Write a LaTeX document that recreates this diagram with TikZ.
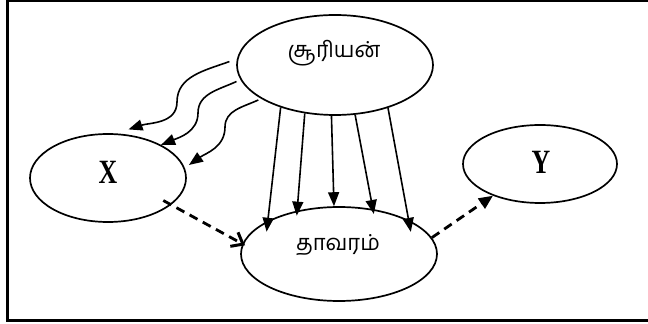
\documentclass[tikz,border=0pt]{standalone}
\usepackage{fontspec}
\usetikzlibrary{shapes.geometric,arrows.meta}
\setmainfont{Liberation Serif}
\newfontfamily\tamilfont[Script=Tamil]{Hind Madurai}

\begin{document}
\begin{tikzpicture}[x=1pt,y=1pt,
  oval/.style={ellipse, draw, line width=1.7pt, inner sep=0pt},
  tamil/.style={font=\tamilfont\fontsize{22}{22}\selectfont, inner sep=0pt},
  letter/.style={font=\bfseries\fontsize{34}{34}\selectfont, inner sep=0pt},
  ray/.style={line width=1.6pt, -{Triangle[length=14pt,width=11pt]}},
  flow/.style={line width=2.8pt, dash pattern=on 9pt off 6pt}
]
\useasboundingbox (0,0) rectangle (648,324);
\clip (0,0) rectangle (648,324);

% outer frame
\draw[line width=3pt] (660,323) -- (7,323) -- (7,3) -- (660,3);

% ovals and their labels
\node[oval, minimum width=196pt, minimum height=100pt] (sun) at (335,259) {};
\node[tamil] (suntext) at (334,271) {சூரியன்};
\node[oval, minimum width=156pt, minimum height=88pt] (x) at (108,146) {};
\node[letter] (xtext) at (108,152) {\scalebox{0.76}[1]{X}};
\node[oval, minimum width=196pt, minimum height=94pt] (plant) at (339,70) {};
\node[tamil] (planttext) at (338,79) {தாவரம்};
\node[oval, minimum width=154pt, minimum height=78pt] (y) at (540,160) {};
\node[letter] (ytext) at (541,162) {\scalebox{0.76}[1]{Y}};

% straight rays from the sun to the plant
\draw[ray, shorten >=-11pt] (sun.218) -- (plant.155);
\draw[ray, shorten >=-5pt] (sun.238) -- (plant.134);
\draw[ray] (sun.266) -- (plant.96);
\draw[ray, shorten >=-5pt] (sun.292) -- (plant.53);
\draw[ray, shorten >=-12pt] (sun.321) -- (plant.26);

% wavy rays from the sun to X
\draw[ray] ([xshift=-7pt]sun.178) to[out=200,in=90] (177,222)
  to[out=-90,in=18] ([shift={(2pt,5pt)}]x.67);
\draw[ray] ([xshift=-5pt]sun.190) to[out=205,in=90] (198,211)
  to[out=-90,in=22] (x.32);
\draw[ray] ([xshift=-5pt]sun.206) to[out=205,in=90] (225,197)
  to[out=-90,in=35] ([shift={(5pt,1pt)}]x.9);

% dashed flows
\draw[flow, -{Straight Barb[length=10pt,width=16pt,line width=3pt]}, shorten <=-9pt, shorten >=-3pt] (x.-23) -- (plant.174);
\draw[flow, -{Triangle[length=14pt,width=12pt]}] (plant.10) -- (y.214);
\end{tikzpicture}
\end{document}
